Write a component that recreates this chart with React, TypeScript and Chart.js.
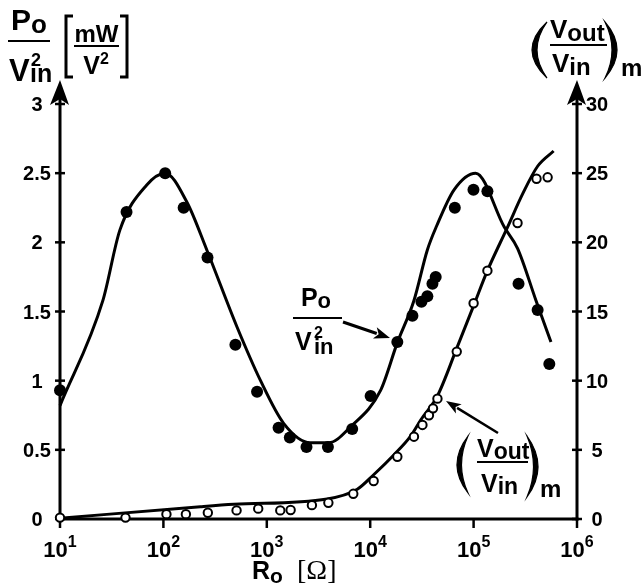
import { useEffect, useRef } from "react";
import { Chart, registerables } from "chart.js";

Chart.register(...registerables);

// ---- data ----
// measured Po/Vin^2 [mW/V^2] (filled dots, left axis)
const powerR = [10, 44, 104, 157, 267, 497, 805, 1300, 1670, 2420, 3900, 6700, 10100, 18300, 25600, 31300, 35700, 40000, 43000, 65800, 99700, 136000, 272000, 416000, 540000];
const powerVal = [0.93, 2.22, 2.5, 2.25, 1.89, 1.26, 0.92, 0.66, 0.59, 0.52, 0.52, 0.65, 0.89, 1.28, 1.47, 1.57, 1.61, 1.7, 1.75, 2.25, 2.38, 2.37, 1.7, 1.51, 1.12];
// fitted Po/Vin^2 curve
const powerCurveR = [10, 26, 38, 69, 104, 169, 263, 514, 870, 1460, 2630, 3980, 6460, 12600, 18300, 26500, 35700, 44000, 64700, 104700, 198000, 266000, 401000, 560000];
const powerCurveVal = [0.82, 1.58, 2.09, 2.415, 2.5, 2.29, 1.945, 1.39, 1.0, 0.69, 0.552, 0.552, 0.667, 0.93, 1.275, 1.58, 1.945, 2.12, 2.38, 2.5, 2.11, 1.957, 1.58, 1.28];
// measured (Vout/Vin)m (open circles, right axis)
const gainR = [10, 43, 107, 165, 269, 510, 826, 1350, 1700, 2730, 3940, 6860, 10800, 18300, 26500, 32000, 37000, 40500, 44700, 68700, 100000, 136000, 266000, 406000, 520000];
const gainVal = [0.1, 0.1, 0.35, 0.35, 0.45, 0.62, 0.75, 0.62, 0.65, 1.0, 1.17, 1.82, 2.75, 4.5, 5.95, 6.8, 7.5, 8.0, 8.7, 12.1, 15.6, 17.95, 21.4, 24.6, 24.7];
// fitted (Vout/Vin)m curve
const gainCurveR = [10, 228, 480, 3840, 7500, 10800, 17000, 24500, 30800, 44700, 69700, 101000, 136000, 213000, 298000, 416000, 594000];
const gainCurveVal = [0.05, 0.89, 1.06, 1.45, 2.15, 3.2, 4.65, 5.97, 7.16, 8.9, 12.46, 15.5, 17.95, 21.1, 23.5, 25.5, 26.6];

const xTickExponents = [1, 2, 3, 4, 5, 6];
const leftTicks = [0, 0.5, 1, 1.5, 2, 2.5, 3];
const rightTicks = [0, 5, 10, 15, 20, 25, 30];

const SANS = "'Liberation Sans', Arial, Helvetica, sans-serif";
const SERIF = "'Liberation Serif', 'Times New Roman', serif";

type Run = { t: string; size: number; dy?: number; font?: string; weight?: string };

function setFont(ctx: CanvasRenderingContext2D, r: Run) {
  ctx.font = `${r.weight ?? "bold"} ${r.size}px ${r.font ?? SANS}`;
}
function runsWidth(ctx: CanvasRenderingContext2D, runs: Run[]) {
  let w = 0;
  for (const r of runs) {
    setFont(ctx, r);
    w += ctx.measureText(r.t).width;
  }
  return w;
}
function drawRuns(ctx: CanvasRenderingContext2D, x: number, y: number, runs: Run[], align: "left" | "center" | "right" = "left") {
  const w = runsWidth(ctx, runs);
  let cx = align === "left" ? x : align === "center" ? x - w / 2 : x - w;
  ctx.textAlign = "left";
  ctx.textBaseline = "alphabetic";
  for (const r of runs) {
    setFont(ctx, r);
    ctx.fillText(r.t, cx, y + (r.dy ?? 0));
    cx += ctx.measureText(r.t).width;
  }
}
function paren(ctx: CanvasRenderingContext2D, x: number, top: number, bottom: number, dir: number, bulge: number, thick: number) {
  const mid = (top + bottom) / 2;
  ctx.beginPath();
  ctx.moveTo(x, top);
  ctx.quadraticCurveTo(x + dir * bulge * 2, mid, x, bottom);
  ctx.quadraticCurveTo(x + dir * (bulge - thick) * 2, mid, x, top);
  ctx.closePath();
  ctx.fill();
  ctx.lineWidth = 1.2;
  ctx.stroke();
}
function line(ctx: CanvasRenderingContext2D, x1: number, y1: number, x2: number, y2: number, w: number) {
  ctx.lineWidth = w;
  ctx.beginPath();
  ctx.moveTo(x1, y1);
  ctx.lineTo(x2, y2);
  ctx.stroke();
}
function arrow(ctx: CanvasRenderingContext2D, x1: number, y1: number, x2: number, y2: number, w: number, len: number, half: number) {
  const a = Math.atan2(y2 - y1, x2 - x1);
  const bx = x2 - Math.cos(a) * len;
  const by = y2 - Math.sin(a) * len;
  line(ctx, x1, y1, bx + Math.cos(a) * 2, by + Math.sin(a) * 2, w);
  ctx.beginPath();
  ctx.moveTo(x2, y2);
  ctx.lineTo(bx + Math.sin(a) * half, by - Math.cos(a) * half);
  ctx.lineTo(bx + Math.cos(a) * len * 0.25, by + Math.sin(a) * len * 0.25);
  ctx.lineTo(bx - Math.sin(a) * half, by + Math.cos(a) * half);
  ctx.closePath();
  ctx.fill();
}
function axisArrowHead(ctx: CanvasRenderingContext2D, x: number, tip: number) {
  ctx.beginPath();
  ctx.moveTo(x, tip);
  ctx.lineTo(x + 9, tip + 25);
  ctx.lineTo(x, tip + 19);
  ctx.lineTo(x - 10, tip + 25);
  ctx.closePath();
  ctx.fill();
}

const axesPlugin = {
  id: "paperAxes",
  beforeDatasetsDraw(chart: any) {
    const ctx: CanvasRenderingContext2D = chart.ctx;
    const { left, right, top, bottom } = chart.chartArea;
    const xs = chart.scales.x;
    const ys = chart.scales.y;
    const y2 = chart.scales.y2;
    ctx.save();
    ctx.strokeStyle = "#000";
    ctx.fillStyle = "#000";
    ctx.lineCap = "butt";
    // axes
    line(ctx, left, bottom + 1.5, left, top - 18, 3);
    line(ctx, right, bottom + 1.5, right, top - 18, 3);
    line(ctx, left - 1.5, bottom, right + 1.5, bottom, 3);
    axisArrowHead(ctx, left, top - 24);
    axisArrowHead(ctx, right, top - 24);
    // ticks
    for (const e of xTickExponents) {
      const px = xs.getPixelForValue(Math.pow(10, e));
      line(ctx, px, bottom, px, bottom + 9, 2.5);
    }
    for (const v of leftTicks) {
      const py = ys.getPixelForValue(v);
      line(ctx, left - 5, py, left + 5, py, 2.5);
    }
    for (const v of rightTicks) {
      const py = y2.getPixelForValue(v);
      line(ctx, right - 5, py, right + 5, py, 2.5);
    }
    ctx.restore();
  },
  afterDraw(chart: any) {
    const ctx: CanvasRenderingContext2D = chart.ctx;
    const { left, right, bottom } = chart.chartArea;
    const xs = chart.scales.x;
    const ys = chart.scales.y;
    const y2 = chart.scales.y2;
    ctx.save();
    ctx.fillStyle = "#000";
    ctx.strokeStyle = "#000";
    // tick labels
    for (const v of leftTicks) {
      const py = ys.getPixelForValue(v);
      drawRuns(ctx, left - 23, py + 7, [{ t: String(v), size: 20 }], "center");
    }
    for (const v of rightTicks) {
      const py = y2.getPixelForValue(v);
      drawRuns(ctx, right + 20, py + 7, [{ t: String(v), size: 20 }], "center");
    }
    for (const e of xTickExponents) {
      const px = xs.getPixelForValue(Math.pow(10, e));
      drawRuns(ctx, px, bottom + 38, [{ t: "10", size: 22 }, { t: String(e), size: 16, dy: -10 }], "center");
    }
    // x title
    drawRuns(ctx, 252, 579, [{ t: "R", size: 25 }, { t: "o", size: 21, dy: 4 }]);
    drawRuns(ctx, 297, 579, [{ t: "[Ω]", size: 28, font: SERIF, weight: "normal" }]);

    // left axis title: Po/Vin^2 [mW/V^2]
    drawRuns(ctx, 29, 30, [{ t: "P", size: 30 }, { t: "o", size: 26, dy: 3 }], "center");
    line(ctx, 8, 41, 50, 41, 2);
    drawRuns(ctx, 9, 81, [{ t: "V", size: 31 }]);
    drawRuns(ctx, 31, 66, [{ t: "2", size: 18 }]);
    drawRuns(ctx, 30, 82, [{ t: "in", size: 25 }]);
    ctx.lineWidth = 3;
    ctx.beginPath();
    ctx.moveTo(73, 16); ctx.lineTo(66, 16); ctx.lineTo(66, 77); ctx.lineTo(73, 77);
    ctx.moveTo(120, 16); ctx.lineTo(127, 16); ctx.lineTo(127, 77); ctx.lineTo(120, 77);
    ctx.stroke();
    drawRuns(ctx, 96.5, 42, [{ t: "mW", size: 24 }], "center");
    line(ctx, 74, 46, 119, 46, 2);
    drawRuns(ctx, 96, 74, [{ t: "V", size: 25 }, { t: "2", size: 16, dy: -10 }], "center");

    // right axis title: (Vout/Vin)m
    paren(ctx, 547, 22, 78, -1, 15, 5);
    drawRuns(ctx, 550, 38, [{ t: "V", size: 26 }, { t: "out", size: 24, dy: 3 }]);
    line(ctx, 550, 45, 607, 45, 2);
    drawRuns(ctx, 552, 72, [{ t: "V", size: 26 }, { t: "in", size: 24, dy: 3 }]);
    paren(ctx, 605, 22, 78, 1, 12, 5);
    drawRuns(ctx, 621, 76, [{ t: "m", size: 24 }]);

    // inner annotation: Po/Vin^2
    drawRuns(ctx, 316, 306, [{ t: "P", size: 25 }, { t: "o", size: 22, dy: 2 }], "center");
    line(ctx, 293, 318, 342, 318, 2);
    drawRuns(ctx, 295, 350, [{ t: "V", size: 25 }]);
    drawRuns(ctx, 314, 338, [{ t: "2", size: 16 }]);
    drawRuns(ctx, 314, 354, [{ t: "in", size: 22 }]);
    arrow(ctx, 343, 322, 390, 338, 3, 16, 6);

    // inner annotation: (Vout/Vin)m
    paren(ctx, 468, 436, 493, -1, 11, 4.5);
    drawRuns(ctx, 477, 457, [{ t: "V", size: 25 }, { t: "out", size: 23, dy: 2 }]);
    line(ctx, 477, 462, 528, 462, 2);
    drawRuns(ctx, 481, 492, [{ t: "V", size: 25 }, { t: "in", size: 23, dy: 2 }]);
    paren(ctx, 527, 436, 497, 1, 11, 4.5);
    drawRuns(ctx, 540, 497, [{ t: "m", size: 24 }]);
    arrow(ctx, 498, 433, 446, 401, 2.5, 15, 5.5);
    ctx.restore();
  },
};

export default function App() {
  const ref = useRef<HTMLCanvasElement>(null);
  useEffect(() => {
    document.body.style.margin = "0";
    const canvas = ref.current;
    if (!canvas) return;
    const pts = (xs: number[], ys: number[]) => xs.map((x, i) => ({ x, y: ys[i] }));
    const chart = new Chart(canvas, {
      type: "scatter",
      data: {
        datasets: [
          {
            label: "Po/Vin² measured",
            data: pts(powerR, powerVal),
            yAxisID: "y",
            showLine: false,
            pointRadius: 6,
            pointBackgroundColor: "#000",
            pointBorderColor: "#000",
            pointBorderWidth: 0,
            clip: false,
          },
          {
            label: "(Vout/Vin)m measured",
            data: pts(gainR, gainVal),
            yAxisID: "y2",
            showLine: false,
            pointRadius: 4.2,
            pointBackgroundColor: "#fff",
            pointBorderColor: "#000",
            pointBorderWidth: 2,
            clip: false,
          },
          {
            label: "Po/Vin² curve",
            data: pts(powerCurveR, powerCurveVal),
            yAxisID: "y",
            showLine: true,
            borderColor: "#000",
            borderWidth: 3,
            pointRadius: 0,
            cubicInterpolationMode: "monotone",
            clip: false,
          },
          {
            label: "(Vout/Vin)m curve",
            data: pts(gainCurveR, gainCurveVal),
            yAxisID: "y2",
            showLine: true,
            borderColor: "#000",
            borderWidth: 3,
            pointRadius: 0,
            cubicInterpolationMode: "monotone",
            clip: false,
          },
        ],
      },
      options: {
        responsive: false,
        animation: false,
        devicePixelRatio: 1,
        layout: { padding: { left: 60, right: 67, top: 104, bottom: 69 } },
        plugins: { legend: { display: false }, tooltip: { enabled: false } },
        scales: {
          x: { type: "logarithmic", min: 10, max: 1000000, display: false },
          y: { type: "linear", min: 0, max: 3, display: false },
          y2: { type: "linear", position: "right", min: 0, max: 30, display: false },
        },
      } as any,
      plugins: [axesPlugin],
    });
    return () => chart.destroy();
  }, []);
  return (
    <canvas
      ref={ref}
      width={644}
      height={588}
      style={{ display: "block", position: "absolute", left: 0, top: 0, background: "#fff" }}
    />
  );
}
